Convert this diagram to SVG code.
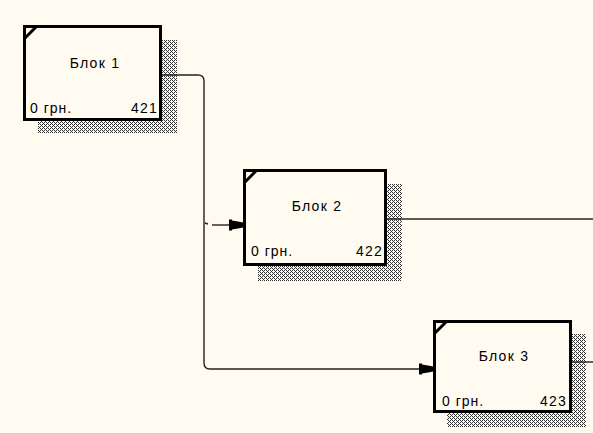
<svg xmlns="http://www.w3.org/2000/svg" width="593" height="433" viewBox="0 0 593 433">
  <style>
    .box { fill: #FFFBF0; stroke: #000; stroke-width: 3; }
    .shadow { fill: url(#dots); }
    .corner { stroke: #000; stroke-width: 3; fill: none; }
    .title { font-family: "Liberation Sans", Arial, sans-serif; font-size: 14px; letter-spacing: 1.3px; fill: #000; text-anchor: middle; }
    .cost { font-family: "Liberation Sans", Arial, sans-serif; font-size: 14px; letter-spacing: 1px; fill: #000; }
    .num { font-family: "Liberation Sans", Arial, sans-serif; font-size: 14px; letter-spacing: 1.2px; fill: #000; text-anchor: end; }
    .link { fill: none; stroke: #222; stroke-width: 1.4; }
  </style>
  <defs>
    <!-- hatched drop shadow -->
    <pattern id="dots" width="4" height="4" patternUnits="userSpaceOnUse">
      <rect x="0" y="0" width="1" height="1" fill="#333"/>
      <rect x="2" y="0" width="1" height="1" fill="#333"/>
      <rect x="1" y="1" width="1" height="1" fill="#333"/>
      <rect x="0" y="2" width="1" height="1" fill="#333"/>
      <rect x="2" y="2" width="1" height="1" fill="#333"/>
      <rect x="3" y="3" width="1" height="1" fill="#333"/>
    </pattern>
    <marker id="head" markerUnits="userSpaceOnUse" markerWidth="15" markerHeight="14" refX="14" refY="7" orient="auto">
      <path d="M0,1.5 L3,1.5 L3,2.5 L9,3.5 L14,4.5 L14,9.5 L9,10.5 L3,11.5 L3,12.5 L0,12.5 Z" fill="#000"/>
    </marker>
  </defs>

  <rect width="593" height="433" fill="#FFFBF0"/>

  <!-- activity blocks -->
  <g id="block1">
    <rect class="shadow" x="38" y="40" width="139" height="93"/>
    <rect class="box" x="24.5" y="26.5" width="136" height="93"/>
    <path class="corner" d="M25,38 L37,26"/>
    <text class="title" x="95" y="68">Блок 1</text>
    <text class="cost" x="30" y="113">0 грн.</text>
    <text class="num" x="158" y="113">421</text>
  </g>

  <g id="block2">
    <rect class="shadow" x="258" y="184" width="144" height="97"/>
    <rect class="box" x="244.5" y="170.5" width="141" height="94"/>
    <path class="corner" d="M245,182 L257,170"/>
    <text class="title" x="317" y="211">Блок 2</text>
    <text class="cost" x="251" y="256">0 грн.</text>
    <text class="num" x="383" y="256">422</text>
  </g>

  <g id="block3">
    <rect class="shadow" x="447" y="334" width="139" height="93"/>
    <rect class="box" x="434.5" y="321.5" width="136" height="90"/>
    <path class="corner" d="M435,333 L447,321"/>
    <text class="title" x="504" y="361">Блок 3</text>
    <text class="cost" x="442" y="406">0 грн.</text>
    <text class="num" x="567" y="406">423</text>
  </g>

  <!-- connectors -->
  <g id="connectors">
    <path class="link" d="M162,75 L198,75 Q204,75 204,81 L204,363 Q204,369 210,369 L433,369" marker-end="url(#head)"/>
    <path class="link" d="M205,223 L208,224"/>
    <path class="link" d="M212,225 L243,225" marker-end="url(#head)"/>
    <path class="link" d="M387,219 L593,219"/>
    <path class="link" d="M572,362 L593,362"/>
  </g>
</svg>
